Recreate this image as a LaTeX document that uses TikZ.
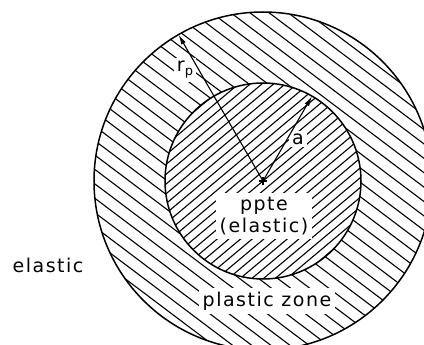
\documentclass[tikz,border=0pt]{standalone}
\usepackage{fontspec}
\setmainfont{DejaVu Sans}[LetterSpace=8]
\usetikzlibrary{arrows.meta,calc}
\begin{document}
\begin{tikzpicture}[x=1pt,y=-1pt,
  txt/.style={font=\fontsize{19}{22}\selectfont, inner sep=4pt, align=center},
  lbl/.style={txt, fill=white},
  hatch/.style={line width=1.1pt},
  rim/.style={line width=1.5pt},
  radiusline/.style={line width=1.1pt, -{Latex[length=10pt,width=5pt]}}]
\useasboundingbox (0,0) rectangle (424,345);
\clip (0,0) rectangle (424,345);
\coordinate (c) at (263,181);
% outer hatching (plastic zone)
\begin{scope}
\clip (c) circle (169pt);
\begin{scope}[shift={(c)}, rotate=-37]
\foreach \i in {-16,...,16} \draw[hatch] (-180,\i*11.5) -- (180,\i*11.5);
\end{scope}
\end{scope}
\fill[white] (c) circle (98pt);
% inner hatching (ppte)
\begin{scope}
\clip (c) circle (98pt);
\begin{scope}[shift={(c)}, rotate=40]
\foreach \i in {-15,...,15} \draw[hatch] (-110,\i*7.5) -- (110,\i*7.5);
\end{scope}
\end{scope}
\draw[rim] (c) circle (169pt);
\draw[rim] (c) circle (98pt);
% labels
\node[lbl] (ppte) at (264,216) {ppte\\(elastic)};
\node[lbl] (pz) at (267,301) {plastic zone};
\node[txt] (el) at (48,265) {elastic};
\node[lbl, inner sep=3pt] (rp) at (185,70) {r\raisebox{-4pt}{\fontsize{13}{13}\selectfont p}};
\node[lbl, inner sep=3pt] (alab) at (298,139) {a};
% radii
\coordinate (tp) at ($(c)+(120:169pt)$);
\coordinate (ta) at ($(c)+(60:98pt)$);
\draw[radiusline] (c) -- (tp);
\draw[radiusline] (c) -- (ta);
\draw[line width=1.1pt] ($(c)+(-4,0)$) -- ($(c)+(4,0)$) ($(c)+(0,-4)$) -- ($(c)+(0,4)$);
\end{tikzpicture}
\end{document}
